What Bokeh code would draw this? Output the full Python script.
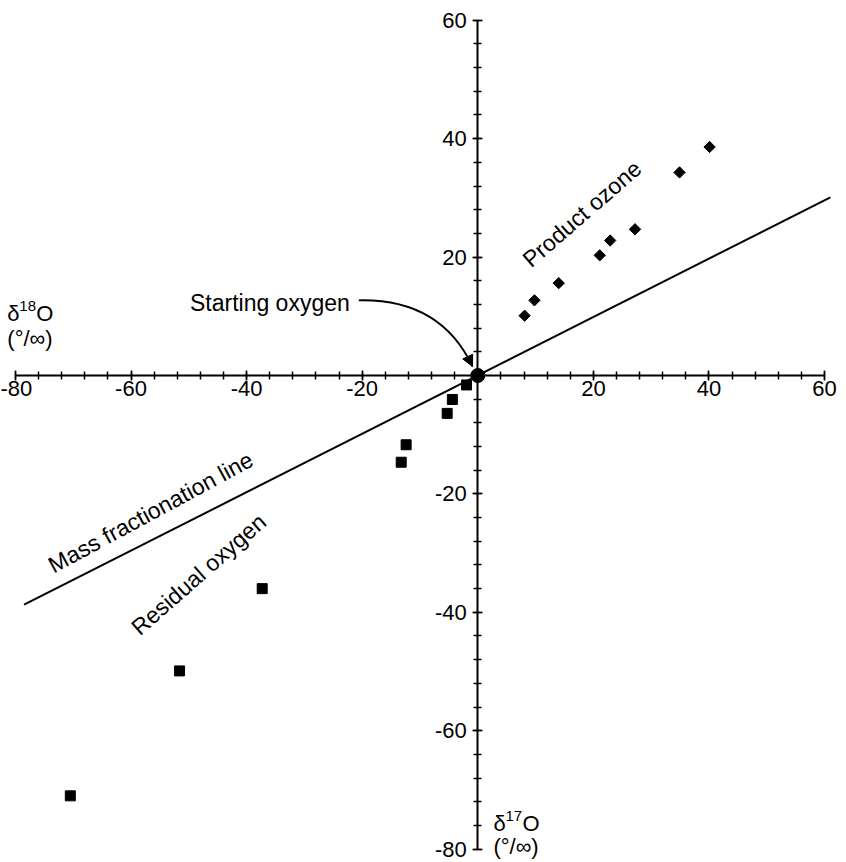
import math
from bokeh.plotting import figure
from bokeh.models import Range1d, FixedTicker, Arrow, NormalHead
from bokeh.core.properties import value
from bokeh.embed import file_html
from bokeh.resources import INLINE

# ---- data ----
ozone_d18 = [8.1, 9.8, 14.0, 21.1, 22.9, 27.2, 34.9, 40.1]
ozone_d17 = [10.1, 12.7, 15.6, 20.3, 22.8, 24.7, 34.3, 38.6]

residual_d18 = [-1.95, -4.4, -5.3, -12.4, -13.25, -37.3, -51.6, -70.5]
residual_d17 = [-1.6, -4.05, -6.4, -11.7, -14.65, -36.0, -49.9, -71.0]

start_d18 = [0.0]
start_d17 = [0.0]

mfl_d18 = [-78.5, 61.0]
mfl_d17 = [-38.7, 30.1]

major_ticks = [-80, -60, -40, -20, 20, 40, 60]
tick_labels = ["-80", "-60", "-40", "-20", "20", "40", "60"]
minor_ticks = list(range(-80, 61, 4))

FONT = "Liberation Sans"

p = figure(width=846, height=862,
           x_range=Range1d(-82.58, 63.79), y_range=Range1d(-82.26, 63.34),
           output_backend="svg", toolbar_location=None, min_border=0,
           outline_line_color=None, background_fill_color="white",
           border_fill_color="white")
p.grid.visible = False

for ax in (p.xaxis[0], p.yaxis[0]):
    ax.fixed_location = 0
    ax.bounds = (-80, 60)
    ax.ticker = FixedTicker(ticks=major_ticks, minor_ticks=minor_ticks)
    ax.major_label_overrides = {t: s for t, s in zip(major_ticks, tick_labels)}
    ax.axis_line_width = 2
    ax.axis_line_color = "black"
    ax.major_tick_in = 5
    ax.major_tick_out = 5
    ax.minor_tick_in = 4
    ax.minor_tick_out = 4
    ax.major_tick_line_width = 1.5
    ax.minor_tick_line_width = 1.5
    ax.major_tick_line_color = "black"
    ax.minor_tick_line_color = "black"
    ax.major_label_text_font = FONT
    ax.major_label_text_font_size = "22px"
    ax.major_label_text_color = "black"

p.xaxis[0].major_label_standoff = 1
p.yaxis[0].major_label_standoff = 6

# mass fractionation line
p.line(mfl_d18, mfl_d17, line_width=2, line_color="black")

# data
p.scatter(residual_d18, residual_d17, marker="square", size=10,
          fill_color="black", line_color="black")
p.scatter(ozone_d18, ozone_d17, marker="square", angle=math.pi / 4, size=8,
          fill_color="black", line_color="black")
p.scatter(start_d18, start_d17, marker="circle", size=14,
          fill_color="black", line_color="black")

# curved arrow for "Starting oxygen"
p.quadratic(x0=[-20.6], y0=[12.7], x1=[-0.92], y1=[1.52], cx=[-6.45], cy=[13.0],
            line_width=1.8, line_color="black")
p.add_layout(Arrow(end=NormalHead(size=11, fill_color="black", line_color="black"),
                   x_start=-1.5, y_start=2.7, x_end=-0.92, y_end=1.52,
                   line_width=1.5, line_color="black"))

# annotations
common = dict(text_font=value(FONT), text_color="black")
p.text(x=[-49.8], y=[12.2], text=["Starting oxygen"], text_font_size=value("23px"),
       text_align="left", text_baseline="alphabetic", **common)
p.text(x=[18.0], y=[27.3], text=["Product ozone"], angle=0.716,
       text_font_size=value("23px"), text_align="center", text_baseline="middle", **common)
p.text(x=[-56.6], y=[-23.1], text=["Mass fractionation line"], angle=0.496,
       text_font_size=value("23px"), text_align="center", text_baseline="middle", **common)
p.text(x=[-48.3], y=[-33.6], text=["Residual oxygen"], angle=0.72,
       text_font_size=value("23px"), text_align="center", text_baseline="middle", **common)

# axis titles: delta symbol, raised mass number, O; then per-mil line
def axis_title(x, y, mass, gap):
    p.text(x=[x], y=[y], text=["δ"], text_font_size=value("22px"),
           text_align="left", text_baseline="alphabetic", **common)
    p.text(x=[x], y=[y], text=[mass], x_offset=12, y_offset=-7,
           text_font_size=value("15px"),
           text_align="left", text_baseline="alphabetic", **common)
    p.text(x=[x], y=[y], text=["O"], x_offset=29,
           text_font_size=value("22px"),
           text_align="left", text_baseline="alphabetic", **common)
    p.text(x=[x], y=[y], text=["(°/∞)"], y_offset=gap,
           text_font_size=value("22px"),
           text_align="left", text_baseline="alphabetic", **common)

axis_title(-81.4, 10.5, "18", 25)
axis_title(2.7, -75.6, "17", 23)

open("out.html", "w").write(file_html(p, INLINE))
